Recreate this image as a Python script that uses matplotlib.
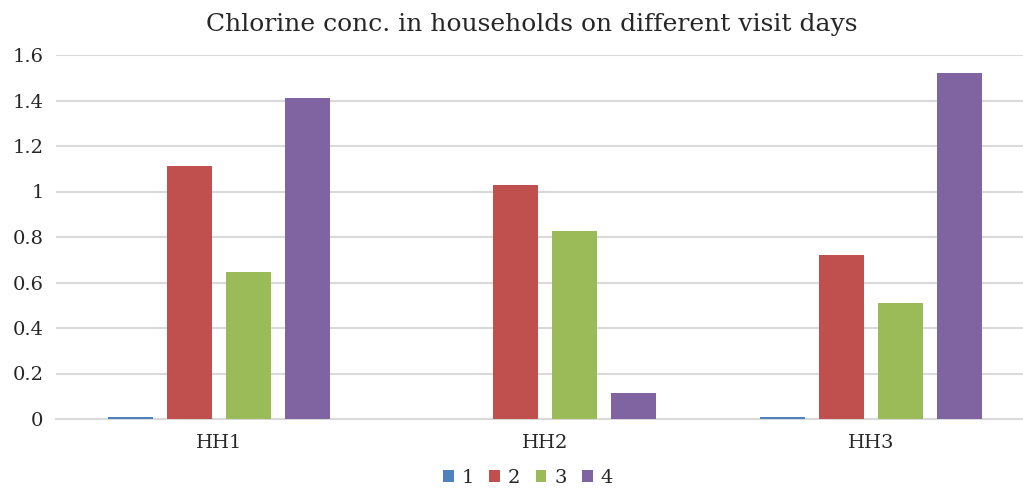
import matplotlib
matplotlib.use("Agg")
import matplotlib.pyplot as plt
import numpy as np

# Free chlorine concentration per household, one series per visit day
households = ["HH1", "HH2", "HH3"]
visit_days = ["1", "2", "3", "4"]
day1 = [0.01, 0.0, 0.01]
day2 = [1.11, 1.03, 0.72]
day3 = [0.645, 0.826, 0.508]
day4 = [1.41, 0.116, 1.52]
series = [day1, day2, day3, day4]
colors = ["#4F81BD", "#C0504D", "#9BBB59", "#8064A2"]
yticks = [0, 0.2, 0.4, 0.6, 0.8, 1, 1.2, 1.4, 1.6]
ytick_labels = ["0", "0.2", "0.4", "0.6", "0.8", "1", "1.2", "1.4", "1.6"]

plt.rcParams["font.family"] = ["DejaVu Serif"]

W, H = 1023, 491
fig = plt.figure(figsize=(W / 100, H / 100), dpi=100)
left, right = 56 / W, 1034 / W
bottom, top = 1 - 419 / H, 1 - 55 / H
ax = fig.add_axes([left, bottom, right - left, top - bottom])

x = np.arange(len(households))
bar_w = 0.141
step = 0.181
for i, (vals, c, lab) in enumerate(zip(series, colors, visit_days)):
    ax.bar(x + (i - 1.5) * step, vals, width=bar_w, color=c, label=lab,
           zorder=3, linewidth=0)

ax.set_xlim(-0.5, 2.5)
ax.set_ylim(0, 1.6)
ax.set_yticks(yticks)
ax.set_yticklabels(ytick_labels)
ax.set_xticks(x)
ax.set_xticklabels(households)

ax.yaxis.grid(True, color="#D9D9D9", linewidth=1.5, zorder=0)
for s in ["top", "right", "left"]:
    ax.spines[s].set_visible(False)
ax.spines["bottom"].set_color("#D9D9D9")
ax.spines["bottom"].set_linewidth(1.5)
ax.tick_params(axis="both", length=0, labelsize=14, colors="#262626")
ax.tick_params(axis="y", pad=9)
ax.tick_params(axis="x", pad=11)

fig.text(532 / W, 1 - 25 / H, "Chlorine conc. in households on different visit days",
         ha="center", va="center", fontsize=18, color="#262626")

fig.legend(loc="center", bbox_to_anchor=(528 / W, 1 - 478 / H), ncol=4,
           frameon=False, fontsize=14, handlelength=0.55, handleheight=0.55,
           handletextpad=0.4, columnspacing=0.8, labelcolor="#262626",
           borderpad=0, borderaxespad=0)

fig.savefig("out.png", dpi=100, facecolor="white")
